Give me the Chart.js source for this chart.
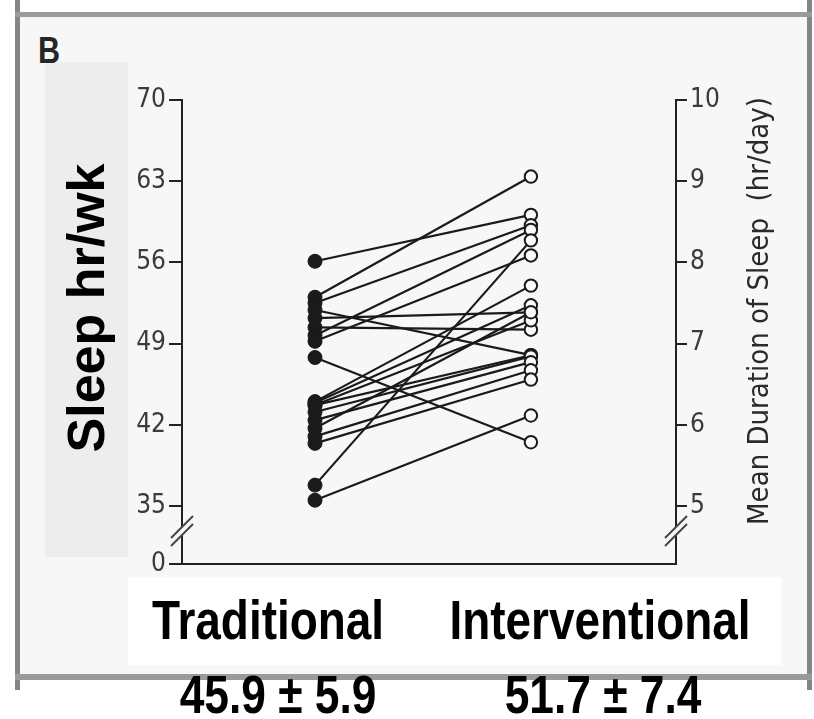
<!DOCTYPE html>
<html>
<head>
<meta charset="utf-8">
<script src="https://cdn.jsdelivr.net/npm/chart.js@4.4.0/dist/chart.umd.min.js"></script>
<style>
  body { margin: 0; background: #fff; }
  #wrap { position: relative; width: 814px; height: 719px; overflow: hidden; font-family: 'Liberation Sans', Arial, sans-serif; }
  .edge { position: absolute; background: #858585; }
  #panel { position: absolute; left: 15px; top: 12px; width: 797px; height: 668px; background: #f7f7f7; }
  #ybox { position: absolute; left: 45px; top: 62px; width: 83px; height: 495px; background: #ededed; }
  #xbox { position: absolute; left: 128px; top: 577px; width: 653px; height: 88px; background: #fff; }
  #tag { position: absolute; left: 38px; top: 33px; font-weight: bold; font-size: 36px; line-height: 1; color: #262626; transform: scaleX(0.85); transform-origin: left top; }
  .big { position: absolute; width: 400px; font-weight: bold; color: #000; text-align: center; line-height: 1; white-space: nowrap; transform: scaleX(0.82); }
  canvas { position: absolute; left: 0; top: 0; }
</style>
</head>
<body>
<div id="wrap">
  <div id="panel"></div>
  <div class="edge" style="left:15px;top:0;width:5px;height:690px"></div>
  <div class="edge" style="left:807px;top:0;width:5px;height:690px"></div>
  <div class="edge" style="left:15px;top:12px;width:797px;height:5px;background:#9a9a9a"></div>
  <div class="edge" style="left:15px;top:674px;width:797px;height:6px;background:#9a9a9a"></div>
  <div id="ybox"></div>
  <div id="xbox"></div>
  <div id="tag">B</div>
  <canvas id="sleepChart" width="814" height="719"></canvas>
</div>
<script>
// x position of each group (1 = traditional schedule, 2 = interventional schedule)
const groups = [1, 2];
const groupLabels = ['Traditional', 'Interventional'];
const groupSummary = ['45.9 ± 5.9', '51.7 ± 7.4'];

// sleep per intern, hr/wk; same index = same intern
const traditional = [56.1, 53.0, 52.5, 51.9, 51.2, 50.4, 49.7, 49.2, 47.8, 44.0,
                     43.9, 43.7, 43.7, 43.1, 42.4, 41.7, 41.0, 40.4, 36.8, 35.5];
const interventional = [60.1, 63.4, 59.2, 48.0, 51.7, 50.2, 58.8, 56.6, 40.5, 54.0,
                        52.3, 51.0, 48.0, 47.9, 47.4, 51.7, 46.7, 45.9, 57.9, 42.8];

// 30 sits just above the axis break and is labelled "0"
const leftTicks = [30, 35, 42, 49, 56, 63, 70];
const rightTicks = [5, 6, 7, 8, 9, 10];

const ink = '#1a1a1a';
const tickFont = { family: "'Liberation Sans Narrow', 'DejaVu Sans Condensed', sans-serif", size: 26 };

// group names and means under the axis
[groupLabels, groupSummary].forEach((texts, row) => {
  texts.forEach((t, i) => {
    const d = document.createElement('div');
    d.className = 'big';
    d.textContent = t;
    const cx = row === 0 ? [268, 600][i] : [278, 603][i];
    d.style.left = (cx - 200) + 'px';
    d.style.top = row === 0 ? '592px' : '667px';
    d.style.fontSize = row === 0 ? '56px' : '54px';
    document.getElementById('wrap').appendChild(d);
  });
});

const pairLines = traditional.map((t, i) => ({
  data: [{ x: groups[0], y: t }, { x: groups[1], y: interventional[i] }],
  showLine: true,
  borderColor: ink,
  borderWidth: 2.2,
  pointRadius: 0,
  order: 2
}));

const tradPoints = {
  data: traditional.map(v => ({ x: groups[0], y: v })),
  pointRadius: 7,
  pointBackgroundColor: ink,
  pointBorderColor: ink,
  pointBorderWidth: 1,
  order: 1
};

const interPoints = {
  data: interventional.map(v => ({ x: groups[1], y: v })),
  pointRadius: 6.2,
  pointBackgroundColor: '#fafafa',
  pointBorderColor: ink,
  pointBorderWidth: 2,
  order: 0
};

// axis breaks and the two rotated axis titles
const decorations = {
  id: 'decorations',
  afterDraw(chart) {
    const { ctx, chartArea: a } = chart;
    const yb = a.bottom - 33;
    [a.left, a.right].forEach(x => {
      ctx.save();
      ctx.fillStyle = '#f7f7f7';
      ctx.beginPath();
      ctx.moveTo(x - 9, yb + 5);
      ctx.lineTo(x + 9, yb - 13);
      ctx.lineTo(x + 9, yb - 5);
      ctx.lineTo(x - 9, yb + 13);
      ctx.closePath();
      ctx.fill();
      ctx.strokeStyle = '#444';
      ctx.lineWidth = 2;
      [-4, 4].forEach(dy => {
        ctx.beginPath();
        ctx.moveTo(x - 11, yb + dy + 11);
        ctx.lineTo(x + 11, yb + dy - 11);
        ctx.stroke();
      });
      ctx.restore();
    });

    ctx.save();
    ctx.fillStyle = '#000';
    ctx.textAlign = 'center';
    ctx.textBaseline = 'middle';
    ctx.translate(a.left - 92, 308);
    ctx.rotate(-Math.PI / 2);
    ctx.font = "bold 52px 'Liberation Sans', Arial, sans-serif";
    ctx.fillText('Sleep hr/wk', 0, 0);
    ctx.restore();

    ctx.save();
    ctx.fillStyle = '#2a2a2a';
    ctx.textAlign = 'center';
    ctx.textBaseline = 'middle';
    ctx.translate(a.right + 84, 311);
    ctx.rotate(-Math.PI / 2);
    ctx.font = "29px 'DejaVu Sans Condensed', sans-serif";
    ctx.fillText('Mean Duration of Sleep  (hr/day)', 0, 0);
    ctx.restore();
  }
};

new Chart(document.getElementById('sleepChart'), {
  type: 'scatter',
  data: { datasets: [...pairLines, tradPoints, interPoints] },
  options: {
    responsive: false,
    animation: false,
    layout: { padding: { left: 40, right: 0, top: 100, bottom: 155 } },
    plugins: { legend: { display: false }, tooltip: { enabled: false } },
    scales: {
      x: {
        type: 'linear',
        min: 0.384,
        max: 2.672,
        ticks: { display: false },
        grid: { display: false, drawTicks: false },
        border: { display: true, color: '#222', width: 2 },
        afterFit: s => { s.height = 0; }
      },
      y: {
        position: 'left',
        min: 30,
        max: 70,
        afterBuildTicks: s => { s.ticks = leftTicks.map(v => ({ value: v })); },
        ticks: {
          autoSkip: false,
          callback: v => v === 30 ? '0' : v,
          color: '#3a3a3a',
          font: tickFont,
          padding: 3
        },
        grid: { drawOnChartArea: false, drawTicks: true, tickLength: 13, color: '#222', lineWidth: 2 },
        border: { color: '#222', width: 2 },
        afterFit: s => { s.width = 142; }
      },
      y2: {
        position: 'right',
        min: 30 / 7,
        max: 10,
        afterBuildTicks: s => { s.ticks = rightTicks.map(v => ({ value: v })); },
        ticks: { autoSkip: false, color: '#3a3a3a', font: tickFont, padding: 3 },
        grid: { drawOnChartArea: false, drawTicks: true, tickLength: 11, color: '#222', lineWidth: 2 },
        border: { color: '#222', width: 2 },
        afterFit: s => { s.width = 138; }
      }
    }
  },
  plugins: [decorations]
});
</script>
</body>
</html>
